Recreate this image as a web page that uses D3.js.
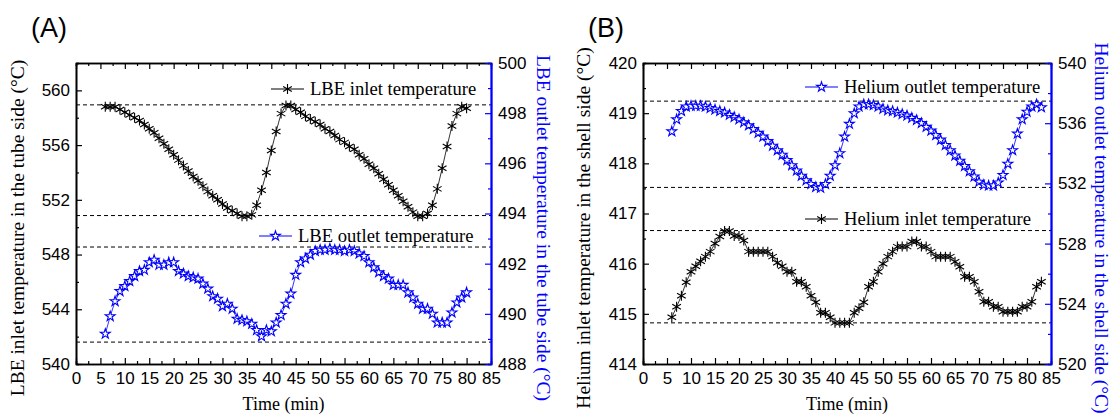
<!DOCTYPE html>
<html>
<head>
<meta charset="utf-8">
<script src="https://cdn.jsdelivr.net/npm/d3@7"></script>
<style>
    body { margin: 0; background: #fff; }
    .tick text { font-family: "Liberation Sans", Arial, sans-serif; font-size: 17px; fill: #000; }
    .title { font-family: "Liberation Serif", "Times New Roman", serif; font-size: 18px; }
    .legend { font-family: "Liberation Serif", "Times New Roman", serif; font-size: 18.6px; }
    .ytitle { font-family: "Liberation Serif", "Times New Roman", serif; font-size: 19.5px; }
</style>
</head>
<body>
<div id="chart"></div>
<script>
// sampling grid (one reading per minute)
const timeA = d3.range(6, 81)
const timeB = d3.range(6, 84)
const xTickValues = [0, 5, 10, 15, 20, 25, 30, 35, 40, 45, 50, 55, 60, 65, 70, 75, 80, 85]

// (A) LBE side
const lbeInlet = [
    558.8, 558.8, 558.8, 558.6, 558.4, 558.2, 558.0, 557.8, 557.5, 557.2,
    556.9, 556.5, 556.1, 555.7, 555.3, 554.9, 554.5, 554.1, 553.7, 553.4,
    553.0, 552.6, 552.3, 552.0, 551.7, 551.4, 551.2, 551.0, 550.8,
    550.8, 550.9, 551.6, 552.7, 554.0, 555.6, 557.0, 558.3, 558.9, 558.9,
    558.6, 558.4, 558.1, 557.9, 557.7, 557.5, 557.2, 557.0, 556.7, 556.4,
    556.2, 555.9, 555.7, 555.3, 555.0, 554.6, 554.3, 553.9, 553.5, 553.1,
    552.7, 552.3, 551.9, 551.5, 551.1,
    550.8, 550.8, 551.0, 551.6, 552.8, 554.3, 555.9, 557.4, 558.3, 558.8, 558.7
]
const lbeOutlet = [
    489.2, 489.9, 490.5, 490.9, 491.1, 491.3, 491.5, 491.7, 491.75, 492.05,
    492.15, 491.95, 491.95, 492.05, 492.05, 491.7, 491.6, 491.5, 491.45, 491.4,
    491.2, 491.0, 490.7, 490.6, 490.3, 490.4, 490.2, 489.8, 489.75, 489.7,
    489.6, 489.35, 489.1, 489.35, 489.3, 489.65, 489.95, 490.4, 490.8, 491.55,
    492.05, 492.2, 492.35, 492.5, 492.55, 492.55, 492.6, 492.55, 492.55, 492.5,
    492.55, 492.5, 492.4, 492.3, 492.05, 491.85, 491.65, 491.5, 491.4, 491.15,
    491.15, 491.15, 490.85, 490.65, 490.4, 490.2, 490.2, 490.0, 489.65, 489.65,
    489.65, 490.05, 490.45, 490.65, 490.85
]
const refLinesA = [558.94, 550.85, 548.55, 541.6]

// (B) helium side
const heliumInlet = [
    414.93, 415.14, 415.36, 415.63, 415.84, 415.95, 416.05, 416.14, 416.24, 416.4,
    416.54, 416.65, 416.65, 416.55, 416.55, 416.46, 416.24, 416.24, 416.24, 416.24,
    416.24, 416.14, 416.02, 415.95, 415.84, 415.84, 415.64, 415.64, 415.54, 415.36,
    415.23, 415.02, 415.02, 414.93, 414.82, 414.82, 414.82, 414.82, 415.02, 415.11,
    415.23, 415.54, 415.64, 415.84, 416.0, 416.14, 416.24, 416.34, 416.34, 416.34,
    416.44, 416.44, 416.34, 416.34, 416.24, 416.14, 416.14, 416.14, 416.14, 416.04,
    415.94, 415.74, 415.74, 415.64, 415.44, 415.24, 415.24, 415.14, 415.14, 415.04,
    415.04, 415.04, 415.04, 415.14, 415.14, 415.24, 415.54, 415.64
]
const heliumOutlet = [
    535.45, 536.25, 536.8, 537.1, 537.15, 537.15, 537.15, 537.1, 537.0, 536.9,
    536.8, 536.7, 536.55, 536.4, 536.25, 536.05, 535.85, 535.6, 535.35, 535.1,
    534.8, 534.5, 534.2, 533.9, 533.55, 533.2, 532.85, 532.5, 532.2, 531.95,
    531.75, 531.7, 531.95, 532.5, 533.2, 534.0, 535.1, 535.95, 536.65, 537.1,
    537.25, 537.25, 537.2, 537.1, 536.95, 536.85, 536.8, 536.7, 536.6, 536.5,
    536.35, 536.2, 536.0, 535.75, 535.5, 535.2, 534.9, 534.55, 534.2, 533.85,
    533.5, 533.15, 532.8, 532.45, 532.1, 531.9, 531.85, 531.85, 532.05, 532.55,
    533.3, 534.2, 535.3, 536.25, 536.75, 537.1, 537.25, 537.05
]
const refLinesB = [419.24, 417.52, 416.66, 414.82]

const width = 1113
const height = 418
const plotTop = 63
const plotBottom = 364
const blue = "#0000ff"

const svg = d3.select("#chart").append("svg")
    .attr("width", width)
    .attr("height", height)

const asterisk = d3.symbol().type(d3.symbolAsterisk).size(70)
const star = d3.symbol().type(d3.symbolStar).size(30)

function drawPanel(p) {
    const g = svg.append("g")
    const x = d3.scaleLinear().domain([0, 85]).range([p.left, p.right])
    const yL = d3.scaleLinear().domain(p.leftDomain).range([plotBottom, plotTop])
    const yR = d3.scaleLinear().domain(p.rightDomain).range([plotBottom, plotTop])

    // dashed reference lines
    g.selectAll(".ref").data(p.refs).enter().append("line")
        .attr("x1", p.left).attr("x2", p.right)
        .attr("y1", d => yL(d)).attr("y2", d => yL(d))
        .attr("stroke", "#000").attr("stroke-width", 1)
        .attr("stroke-dasharray", "4,3")

    // minor ticks
    const minorX = d3.range(2.5, 85, 5)
    g.append("g").attr("transform", `translate(0,${plotBottom})`)
        .call(d3.axisBottom(x).tickValues(minorX).tickSize(-3).tickFormat(""))
    g.append("g").attr("transform", `translate(0,${plotTop})`)
        .call(d3.axisTop(x).tickValues(minorX).tickSize(-3).tickFormat(""))
    g.append("g").attr("transform", `translate(${p.left},0)`)
        .call(d3.axisLeft(yL).tickValues(p.leftMinor).tickSize(-3).tickFormat(""))
    g.append("g").attr("class", "rminor").attr("transform", `translate(${p.right},0)`)
        .call(d3.axisRight(yR).tickValues(p.rightMinor).tickSize(-3).tickFormat(""))

    // major axes
    g.append("g").attr("transform", `translate(0,${plotBottom})`)
        .call(d3.axisBottom(x).tickValues(xTickValues).tickSizeInner(-6).tickSizeOuter(0).tickPadding(8))
    g.append("g").attr("transform", `translate(0,${plotTop})`)
        .call(d3.axisTop(x).tickValues(xTickValues).tickSizeInner(-6).tickSizeOuter(0).tickFormat(""))
    g.append("g").attr("transform", `translate(${p.left},0)`)
        .call(d3.axisLeft(yL).tickValues(p.leftTicks).tickSizeInner(-6).tickSizeOuter(0).tickPadding(6).tickFormat(d3.format("d")))
    const rAxis = g.append("g").attr("class", "raxis").attr("transform", `translate(${p.right},0)`)
        .call(d3.axisRight(yR).tickValues(p.rightTicks).tickSizeInner(-6).tickSizeOuter(0).tickPadding(7).tickFormat(d3.format("d")))

    g.selectAll(".domain").attr("stroke-width", 1.6)
    g.selectAll(".tick line").attr("stroke-width", 1.2)
    g.selectAll(".rminor line, .raxis line, .rminor .domain").attr("stroke", blue)
    rAxis.selectAll(".domain").attr("stroke", blue).attr("stroke-width", 2)

    // series
    const lineIn = d3.line().x((d, i) => x(p.time[i])).y(d => yL(d))
    const lineOut = d3.line().x((d, i) => x(p.time[i])).y(d => yR(d))

    g.append("path").datum(p.inlet)
        .attr("d", lineIn).attr("fill", "none").attr("stroke", "#000").attr("stroke-width", 0.8)
    g.selectAll(".mi").data(p.inlet).enter().append("path")
        .attr("d", asterisk)
        .attr("transform", (d, i) => `translate(${x(p.time[i])},${yL(d)})`)
        .attr("fill", "none").attr("stroke", "#000").attr("stroke-width", 1.1)

    g.append("path").datum(p.outlet)
        .attr("d", lineOut).attr("fill", "none").attr("stroke", blue).attr("stroke-width", 0.8)
    g.selectAll(".mo").data(p.outlet).enter().append("path")
        .attr("d", star)
        .attr("transform", (d, i) => `translate(${x(p.time[i])},${yR(d)})`)
        .attr("fill", "#fff").attr("stroke", blue).attr("stroke-width", 1.1)

    // legends
    p.legends.forEach(l => {
        const lg = g.append("g").attr("transform", `translate(${l.x},${l.y})`)
        lg.append("line").attr("x1", 0).attr("x2", 33).attr("y1", 0).attr("y2", 0)
            .attr("stroke", l.color).attr("stroke-width", 1)
        lg.append("path").attr("d", l.star ? star : asterisk)
            .attr("transform", "translate(16.5,0)")
            .attr("fill", l.star ? "#fff" : "none").attr("stroke", l.color).attr("stroke-width", 1.1)
        lg.append("text").attr("class", "legend").attr("x", 39).attr("y", 6)
            .text(l.text)
    })

    // titles
    const mid = (p.left + p.right) / 2
    g.append("text").attr("class", "title").attr("x", mid).attr("y", 410)
        .attr("text-anchor", "middle").text("Time (min)")
    g.append("text").attr("class", "ytitle")
        .attr("transform", `translate(${p.leftTitleX},228) rotate(-90)`)
        .attr("text-anchor", "middle").text(p.leftTitle)
    g.append("text").attr("class", "ytitle").attr("fill", blue)
        .attr("transform", `translate(${p.rightTitleX},228) rotate(90)`)
        .attr("text-anchor", "middle").text(p.rightTitle)
    g.append("text").attr("x", p.labelX).attr("y", 37)
        .style("font-family", "Liberation Sans, Arial, sans-serif").style("font-size", "27px")
        .text(p.label)
}

drawPanel({
    label: "(A)", labelX: 31,
    left: 76, right: 491, time: timeA,
    leftDomain: [540, 562], rightDomain: [488, 500],
    leftTicks: [540, 544, 548, 552, 556, 560], leftMinor: [542, 546, 550, 554, 558, 562],
    rightTicks: [488, 490, 492, 494, 496, 498, 500], rightMinor: [489, 491, 493, 495, 497, 499],
    inlet: lbeInlet, outlet: lbeOutlet, refs: refLinesA,
    leftTitle: "LBE inlet temperature in the tube side (°C)", leftTitleX: 24,
    rightTitle: "LBE outlet temperature in the tube side (°C)", rightTitleX: 537,
    legends: [
        { x: 271, y: 89, text: "LBE inlet temperature", color: "#000", star: false },
        { x: 259, y: 236, text: "LBE outlet temperature", color: blue, star: true }
    ]
})

drawPanel({
    label: "(B)", labelX: 588,
    left: 643, right: 1051, time: timeB,
    leftDomain: [414, 420], rightDomain: [520, 540],
    leftTicks: [414, 415, 416, 417, 418, 419, 420], leftMinor: [414.5, 415.5, 416.5, 417.5, 418.5, 419.5],
    rightTicks: [520, 524, 528, 532, 536, 540], rightMinor: [522, 526, 530, 534, 538],
    inlet: heliumInlet, outlet: heliumOutlet, refs: refLinesB,
    leftTitle: "Helium inlet temperature in the shell side (°C)", leftTitleX: 590,
    rightTitle: "Helium outlet temperature in the shell side (°C)", rightTitleX: 1095,
    legends: [
        { x: 805, y: 87, text: "Helium outlet temperature", color: blue, star: true },
        { x: 805, y: 219, text: "Helium inlet temperature", color: "#000", star: false }
    ]
})
</script>
</body>
</html>
